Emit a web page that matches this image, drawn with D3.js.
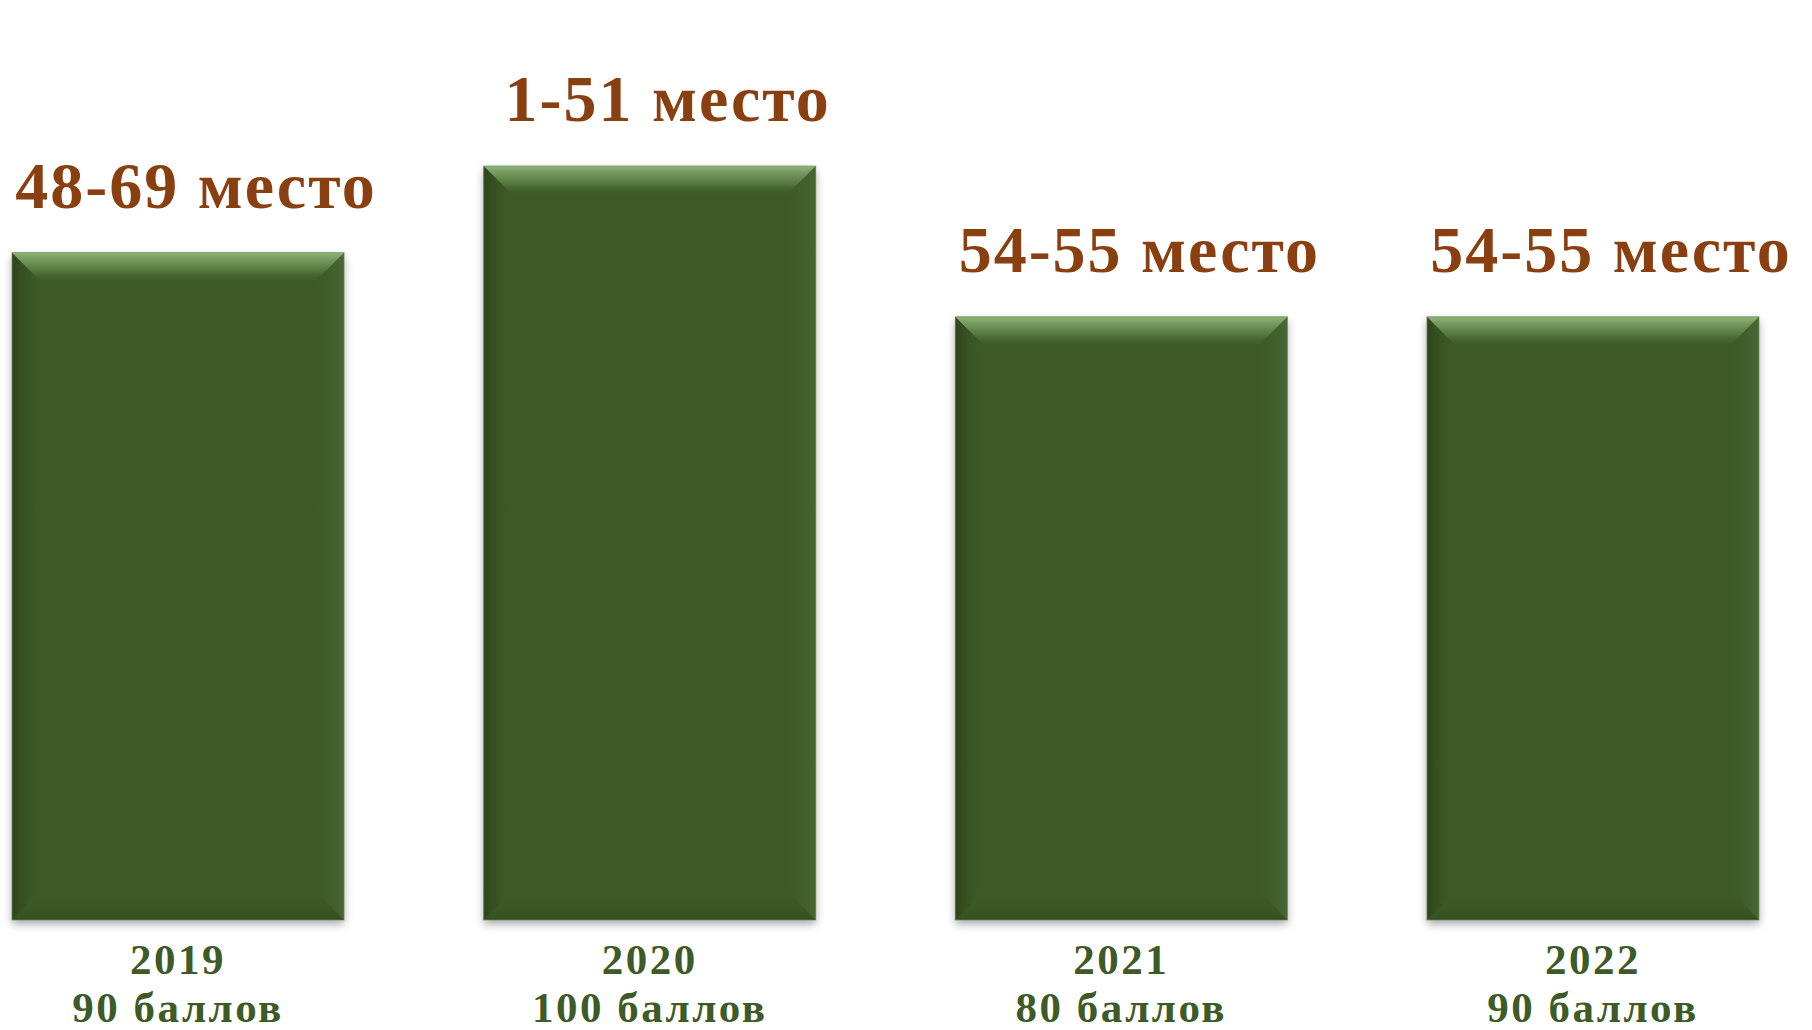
<!DOCTYPE html>
<html>
<head>
<meta charset="utf-8">
<script src="https://cdnjs.cloudflare.com/ajax/libs/d3/7.8.5/d3.min.js"></script>
<style>
  html, body { margin: 0; padding: 0; background: #fff; }
  svg { display: block; }
</style>
</head>
<body>
<div id="chart"></div>
<script>
"use strict";
// data
var years = ["2019", "2020", "2021", "2022"];
var points = ["90 баллов", "100 баллов", "80 баллов", "90 баллов"];
var places = ["48-69 место", "1-51 место", "54-55 место", "54-55 место"];
var barValues = [88.5, 100, 80, 80];

var W = 1812, H = 1030;
var svg = d3.select("#chart").append("svg").attr("width", W).attr("height", H);

var x = d3.scaleBand().domain(years).range([12, 1759]).paddingInner(0.296).paddingOuter(0);
var y = d3.scaleLinear().domain([0, 100]).range([920, 166]);

var defs = svg.append("defs");
var sh = defs.append("filter").attr("id", "shadow")
  .attr("x", "-10%").attr("y", "-10%").attr("width", "120%").attr("height", "120%");
sh.append("feDropShadow").attr("dx", 0).attr("dy", 4).attr("stdDeviation", 4)
  .attr("flood-color", "#000").attr("flood-opacity", 0.35);

function grad(id, x1, y1, x2, y2, stops) {
  var g = defs.append("linearGradient").attr("id", id)
    .attr("x1", x1).attr("y1", y1).attr("x2", x2).attr("y2", y2);
  stops.forEach(function (s) {
    g.append("stop").attr("offset", s[0]).attr("stop-color", s[1]).attr("stop-opacity", s[2]);
  });
}
grad("bevTop", 0, 0, 0, 1, [[0, "#8fb579", 1], [0.6, "#5f8447", 0.7], [1, "#3c5a28", 0]]);
grad("bevLeft", 0, 0, 1, 0, [[0, "#2c4419", 1], [1, "#3c5a28", 0]]);
grad("bevRight", 1, 0, 0, 0, [[0, "#4a6a34", 0.9], [1, "#3c5a28", 0]]);
grad("bevBot", 0, 1, 0, 0, [[0, "#34501f", 1], [1, "#3c5a28", 0]]);

var bev = 30;
var bars = svg.append("g").selectAll("g").data(years).enter().append("g");

bars.append("rect")
  .attr("x", function (d) { return x(d); })
  .attr("y", function (d, i) { return y(barValues[i]); })
  .attr("width", x.bandwidth())
  .attr("height", function (d, i) { return y(0) - y(barValues[i]); })
  .attr("fill", "#3c5a28")
  .attr("filter", "url(#shadow)");

function poly(sel, fill, fn) {
  sel.append("polygon").attr("fill", fill).attr("points", function (d, i) {
    var x0 = x(d), x1 = x(d) + x.bandwidth(), y0 = y(barValues[i]), y1 = y(0);
    return fn(x0, x1, y0, y1).map(function (p) { return p.join(","); }).join(" ");
  });
}
poly(bars, "url(#bevLeft)", function (x0, x1, y0, y1) {
  return [[x0, y0], [x0 + bev, y0 + bev], [x0 + bev, y1 - bev], [x0, y1]];
});
poly(bars, "url(#bevRight)", function (x0, x1, y0, y1) {
  return [[x1, y0], [x1 - bev, y0 + bev], [x1 - bev, y1 - bev], [x1, y1]];
});
poly(bars, "url(#bevBot)", function (x0, x1, y0, y1) {
  return [[x0, y1], [x0 + bev, y1 - bev], [x1 - bev, y1 - bev], [x1, y1]];
});
poly(bars, "url(#bevTop)", function (x0, x1, y0, y1) {
  return [[x0, y0], [x1, y0], [x1 - bev, y0 + bev], [x0 + bev, y0 + bev]];
});
bars.append("rect")
  .attr("x", function (d) { return x(d); })
  .attr("y", function (d, i) { return y(barValues[i]); })
  .attr("width", x.bandwidth())
  .attr("height", function (d, i) { return y(0) - y(barValues[i]); })
  .attr("fill", "none").attr("stroke", "#6f8f5a").attr("stroke-width", 1).attr("stroke-opacity", 0.6);

// place labels above bars
svg.append("g").selectAll("text").data(places).enter().append("text")
  .attr("x", function (d, i) { return x(years[i]) + x.bandwidth() / 2 + 18; })
  .attr("y", function (d, i) { return y(barValues[i]) - 45; })
  .attr("text-anchor", "middle")
  .style("font-family", "'Liberation Serif', serif")
  .style("font-weight", "bold")
  .style("font-size", "66px")
  .style("letter-spacing", "2px")
  .style("fill", "#8a3f10")
  .text(function (d) { return d; });

// year + points below
var lab = svg.append("g").selectAll("text").data(years).enter().append("text")
  .attr("text-anchor", "middle")
  .style("font-family", "'Liberation Serif', serif")
  .style("font-weight", "bold")
  .style("font-size", "43px")
  .style("letter-spacing", "2.5px")
  .style("fill", "#3d5a27");
lab.append("tspan")
  .attr("x", function (d) { return x(d) + x.bandwidth() / 2; })
  .attr("y", 974)
  .text(function (d) { return d; });
lab.append("tspan")
  .attr("x", function (d) { return x(d) + x.bandwidth() / 2; })
  .attr("y", 1022)
  .text(function (d, i) { return points[i]; });
</script>
</body>
</html>
